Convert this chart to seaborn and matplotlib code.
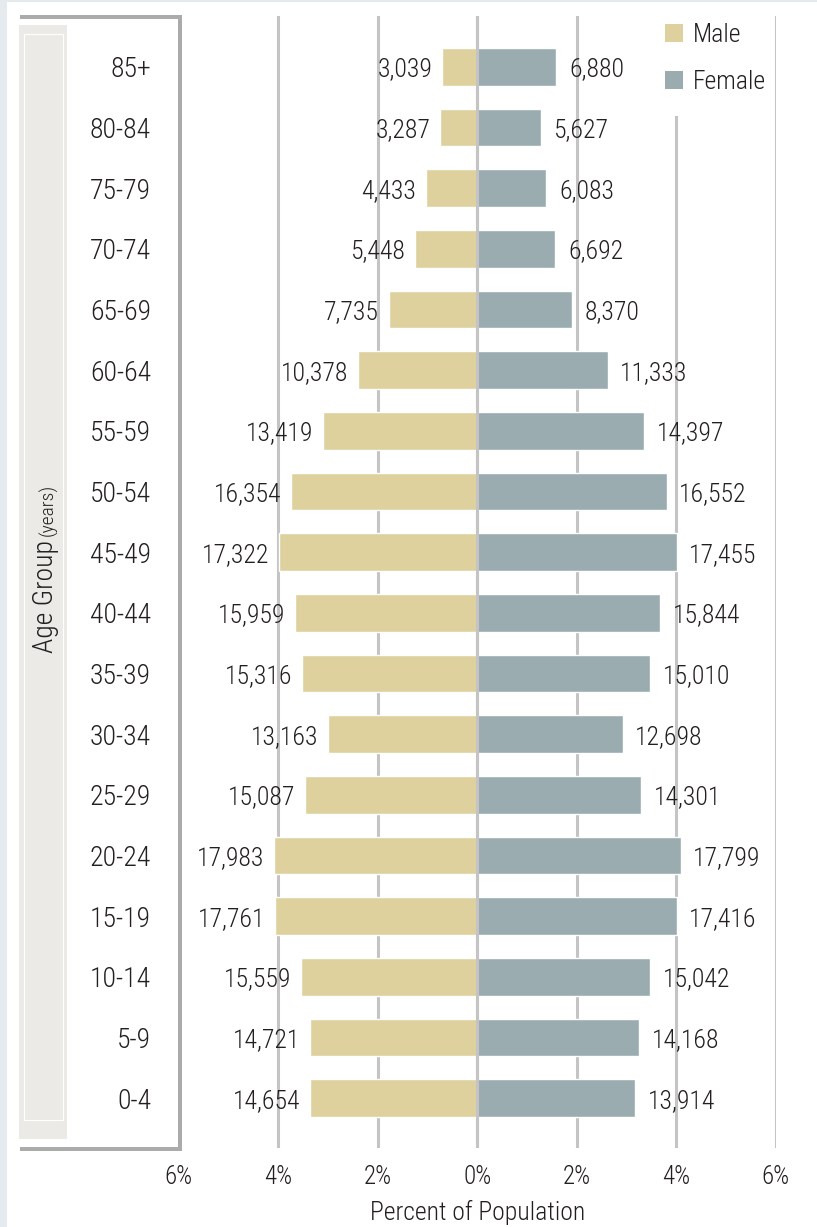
import matplotlib
matplotlib.use("Agg")
import matplotlib.pyplot as plt
from matplotlib.patches import Rectangle, Patch
import numpy as np
import pandas as pd
import seaborn as sns

# ---------------- data ----------------
age_groups = ["85+", "80-84", "75-79", "70-74", "65-69", "60-64", "55-59", "50-54",
              "45-49", "40-44", "35-39", "30-34", "25-29", "20-24", "15-19", "10-14",
              "5-9", "0-4"]
male_counts = [3039, 3287, 4433, 5448, 7735, 10378, 13419, 16354, 17322, 15959,
               15316, 13163, 15087, 17983, 17761, 15559, 14721, 14654]
female_counts = [6880, 5627, 6083, 6692, 8370, 11333, 14397, 16552, 17455, 15844,
                 15010, 12698, 14301, 17799, 17416, 15042, 14168, 13914]
male_pct = [0.71, 0.75, 1.03, 1.25, 1.78, 2.40, 3.10, 3.75, 3.99, 3.66,
            3.52, 3.00, 3.47, 4.09, 4.07, 3.55, 3.37, 3.37]
female_pct = [1.59, 1.29, 1.39, 1.57, 1.91, 2.62, 3.35, 3.81, 4.01, 3.67,
              3.47, 2.92, 3.29, 4.09, 4.01, 3.47, 3.26, 3.17]
sexes = ["Male", "Female"]
xtick_values = [-6, -4, -2, 0, 2, 4, 6]
xtick_labels = ["6%", "4%", "2%", "0%", "2%", "4%", "6%"]

MALE_C = "#DED19E"
FEMALE_C = "#9AACB0"
GRID_C = "#C4C4C4"
TEXT_C = "#231F20"
BORDER_C = "#ABABAB"

df = pd.DataFrame({
    "age": age_groups * 2,
    "sex": ["Male"] * len(age_groups) + ["Female"] * len(age_groups),
    "value": [-v for v in male_pct] + female_pct,
})

# ---------------- style ----------------
sns.set_theme(style="white")
FAM = ["Roboto Condensed", "Liberation Sans Narrow", "Roboto", "DejaVu Sans"]
plt.rcParams["font.family"] = FAM
plt.rcParams["font.weight"] = "light"
plt.rcParams["axes.labelweight"] = "light"
plt.rcParams["text.color"] = TEXT_C
plt.rcParams["xtick.color"] = TEXT_C
plt.rcParams["ytick.color"] = TEXT_C
plt.rcParams["axes.labelcolor"] = TEXT_C

W, H = 817, 1227
fig = plt.figure(figsize=(W / 100, H / 100), dpi=100, facecolor="#E5EAEE")


def fx(x):
    return x / W


def fy(y):
    return 1 - y / H


# white page area
fig.add_artist(Rectangle((fx(7), 0), 1 - fx(7), fy(2), transform=fig.transFigure,
                         facecolor="white", edgecolor="none", zorder=-10))

# left label panel decoration
fig.add_artist(Rectangle((fx(19), fy(1139)), fx(67) - fx(19), fy(25) - fy(1139),
                         transform=fig.transFigure, facecolor="#EBEAE6",
                         edgecolor="none", zorder=-5))
fig.add_artist(Rectangle((fx(24), fy(1120)), fx(62.7) - fx(24), fy(34) - fy(1120),
                         transform=fig.transFigure, facecolor="none",
                         edgecolor="white", lw=0.8, zorder=-4))
for (x0, y0, x1, y1) in [(20, 15, 181.5, 19), (178, 15, 181.5, 1151), (20, 1147, 181.5, 1151)]:
    fig.add_artist(Rectangle((fx(x0), fy(y1)), fx(x1) - fx(x0), fy(y0) - fy(y1),
                             transform=fig.transFigure, facecolor=BORDER_C,
                             edgecolor="none", zorder=5))

# axes
left, right, top, bottom = 178.8, 775.8, 16, 1148
ax = fig.add_axes([fx(left), fy(bottom), fx(right) - fx(left), fy(top) - fy(bottom)])
ax.patch.set_alpha(0)

sns.barplot(data=df, x="value", y="age", hue="sex", order=age_groups,
            hue_order=sexes, palette={"Male": MALE_C, "Female": FEMALE_C},
            dodge=False, width=0.62, orient="h", legend=False, saturation=1,
            errorbar=None, ax=ax)

ax.set_xlim(-6, 6)
ax.set_ylim(17.82, -0.84)
ax.set_xticks(xtick_values, xtick_labels)
ax.tick_params(axis="x", length=0, pad=12, labelsize=18)
ax.tick_params(axis="y", length=0, pad=20, labelsize=20)
for s in ax.spines.values():
    s.set_visible(False)
ax.grid(axis="x", color=GRID_C, lw=2.2)
ax.grid(axis="y", visible=False)
ax.set_axisbelow(True)
ax.axvline(0, color=GRID_C, lw=2.2, zorder=3)
ax.set_ylabel("")
ax.set_xlabel("Percent of Population", fontsize=18.5, labelpad=8)

# white block hiding the gridline behind the legend
ax.add_patch(Rectangle((3.5, -0.84), 2.35, 0.84 + 0.81, facecolor="white",
                       edgecolor="none", zorder=0.8))

# value labels
for i, (mc, mp, fc, fp) in enumerate(zip(male_counts, male_pct, female_counts, female_pct)):
    ax.annotate(f"{mc:,}", xy=(-mp, i), xytext=(-7, 0), textcoords="offset points",
                ha="right", va="center_baseline", fontsize=18.5, zorder=4)
    ax.annotate(f"{fc:,}", xy=(fp, i), xytext=(9, 0), textcoords="offset points",
                ha="left", va="center_baseline", fontsize=18.5, zorder=4)

# legend
handles = [Patch(facecolor=MALE_C, edgecolor="none", label="Male"),
           Patch(facecolor=FEMALE_C, edgecolor="none", label="Female")]
fig.legend(handles=handles, loc="upper left", bbox_to_anchor=(fx(665), fy(23)),
           frameon=False, fontsize=18.5, handlelength=0.7, handleheight=0.7,
           handletextpad=0.4, labelspacing=0.9, borderpad=0, borderaxespad=0)

# rotated axis title
t1 = fig.text(fx(53.5), fy(653), "Age Group", rotation=90, rotation_mode="anchor",
              ha="left", va="baseline", fontsize=20)
fig.canvas.draw()
bb = t1.get_window_extent()
fig.text(fx(53.5), (bb.y1 + 4) / H, "(years)", rotation=90, rotation_mode="anchor",
         ha="left", va="baseline", fontsize=14)

fig.savefig("out.png", dpi=100, facecolor=fig.get_facecolor())
